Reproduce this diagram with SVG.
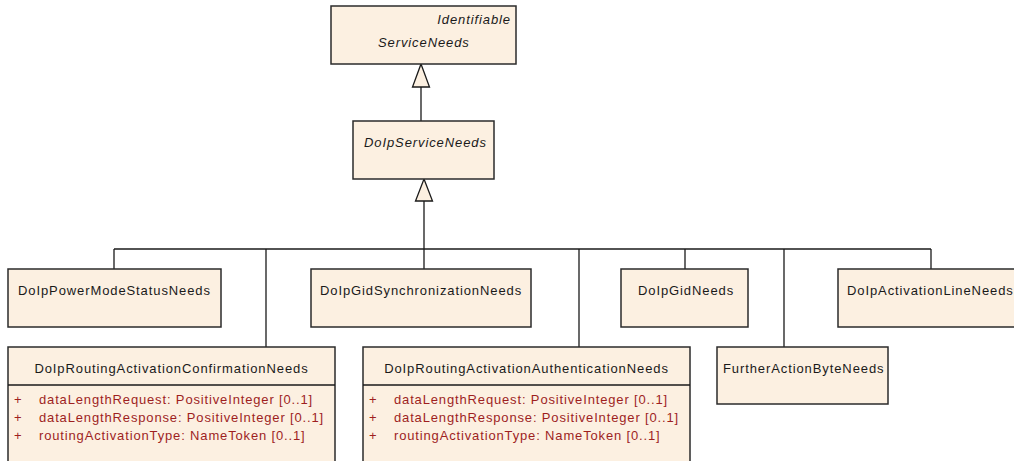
<svg xmlns="http://www.w3.org/2000/svg" width="1014" height="461" viewBox="0 0 1014 461">
<style>
.box{fill:#fcf0e1;stroke:#2b2b2b;stroke-width:1.5}
.t{font-family:"Liberation Sans",Arial,sans-serif;font-size:13px;letter-spacing:0.9px;fill:#1a1a1a}
.i{font-style:italic}
.a{font-family:"Liberation Sans",Arial,sans-serif;font-size:13px;letter-spacing:0.85px;fill:#9e1f1f}
.c{fill:none;stroke:#1a1a1a;stroke-width:1.3}
.tri{fill:#fcf0e1;stroke:#1a1a1a;stroke-width:1.3}
</style>
<rect width="1014" height="461" fill="#ffffff"/>
<g id="connectors">
<path class="c" d="M421 87 V121"/>
<path class="c" d="M424 201 V269"/>
<path class="c" d="M114 249 H931"/>
<path class="c" d="M114 249 V269"/>
<path class="c" d="M266 249 V347"/>
<path class="c" d="M579 249 V347"/>
<path class="c" d="M685 249 V269"/>
<path class="c" d="M784 249 V347"/>
<path class="c" d="M931 249 V269"/>
<polygon class="tri" points="421,64 429.5,87 412.5,87"/>
<polygon class="tri" points="424,179 432.5,201 415.5,201"/>
</g>
<g id="IdentifiableServiceNeeds">
<rect class="box" x="331" y="6" width="185" height="58"/>
<text class="t i" x="511" y="24" text-anchor="end" letter-spacing="0.35">Identifiable</text>
<text class="t i" x="378" y="47" letter-spacing="0.35">ServiceNeeds</text>
</g>
<g id="DoIpServiceNeeds">
<rect class="box" x="353" y="121" width="141" height="58"/>
<text class="t i" x="364" y="147" letter-spacing="0.35">DoIpServiceNeeds</text>
</g>
<g id="DoIpPowerModeStatusNeeds">
<rect class="box" x="8" y="269" width="213" height="58"/>
<text class="t" x="18" y="295">DoIpPowerModeStatusNeeds</text>
</g>
<g id="DoIpGidSynchronizationNeeds">
<rect class="box" x="311" y="269" width="220" height="58"/>
<text class="t" x="320" y="295">DoIpGidSynchronizationNeeds</text>
</g>
<g id="DoIpGidNeeds">
<rect class="box" x="621" y="269" width="127" height="58"/>
<text class="t" x="638" y="295">DoIpGidNeeds</text>
</g>
<g id="DoIpActivationLineNeeds">
<rect class="box" x="838" y="269" width="190" height="58"/>
<text class="t" x="847" y="295">DoIpActivationLineNeeds</text>
</g>
<g id="DoIpRoutingActivationConfirmationNeeds">
<rect class="box" x="8" y="347" width="327" height="130"/>
<line class="c" x1="8" y1="385" x2="335" y2="385"/>
<text class="t" x="171.5" y="373" text-anchor="middle">DoIpRoutingActivationConfirmationNeeds</text>
<text class="a" x="14" y="404">+</text>
<text class="a" x="39" y="404">dataLengthRequest: PositiveInteger [0..1]</text>
<text class="a" x="14" y="422">+</text>
<text class="a" x="39" y="422">dataLengthResponse: PositiveInteger [0..1]</text>
<text class="a" x="14" y="440">+</text>
<text class="a" x="39" y="440">routingActivationType: NameToken [0..1]</text>
</g>
<g id="DoIpRoutingActivationAuthenticationNeeds">
<rect class="box" x="363" y="347" width="327" height="130"/>
<line class="c" x1="363" y1="385" x2="690" y2="385"/>
<text class="t" x="526.5" y="373" text-anchor="middle">DoIpRoutingActivationAuthenticationNeeds</text>
<text class="a" x="369" y="404">+</text>
<text class="a" x="394" y="404">dataLengthRequest: PositiveInteger [0..1]</text>
<text class="a" x="369" y="422">+</text>
<text class="a" x="394" y="422">dataLengthResponse: PositiveInteger [0..1]</text>
<text class="a" x="369" y="440">+</text>
<text class="a" x="394" y="440">routingActivationType: NameToken [0..1]</text>
</g>
<g id="FurtherActionByteNeeds">
<rect class="box" x="717" y="347" width="171" height="57"/>
<text class="t" x="723" y="373">FurtherActionByteNeeds</text>
</g>
</svg>
